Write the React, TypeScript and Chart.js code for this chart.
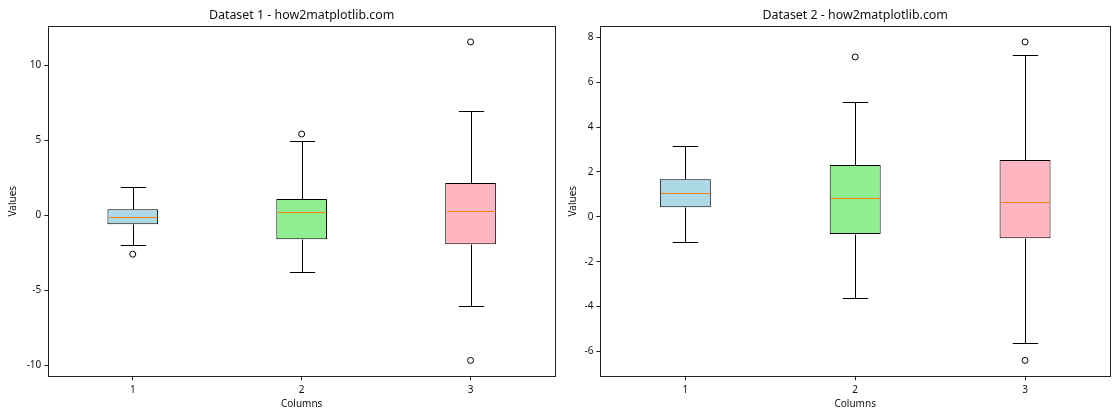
import React, { useEffect, useRef } from "react";
import { Chart, registerables } from "chart.js";

Chart.register(...registerables);

// ---------- data ----------
const categories = ["1", "2", "3"];
const boxColors = ["#add8e6", "#90ee90", "#ffb6c1"];

// Dataset 1
const d1Q1 = [-0.61, -1.61, -1.94];
const d1Q3 = [0.39, 1.06, 2.13];
const d1Median = [-0.14, 0.19, 0.26];
const d1WhiskerLow = [-2.01, -3.81, -6.06];
const d1WhiskerHigh = [1.86, 4.93, 6.91];
const d1Outliers = [[-2.61], [5.4], [11.54, -9.69]];
const d1Ticks = [-10, -5, 0, 5, 10];
const d1TickLabels = ["-10", "-5", "0", "5", "10"];

// Dataset 2
const d2Q1 = [0.43, -0.77, -0.95];
const d2Q3 = [1.68, 2.31, 2.53];
const d2Median = [1.06, 0.83, 0.66];
const d2WhiskerLow = [-1.13, -3.63, -5.63];
const d2WhiskerHigh = [3.17, 5.1, 7.21];
const d2Outliers = [[], [7.13], [7.8, -6.4]];
const d2Ticks = [-6, -4, -2, 0, 2, 4, 6, 8];
const d2TickLabels = ["-6", "-4", "-2", "0", "2", "4", "6", "8"];

const FONT = '"Noto Sans", "DejaVu Sans", sans-serif';
const TEXT = "#111";
const AXIS = "#222";

type BoxProps = {
  title: string;
  q1: number[];
  q3: number[];
  med: number[];
  wlo: number[];
  whi: number[];
  outliers: number[][];
  ticks: number[];
  tickLabels: string[];
  yWidth: number;
  padRight: number;
};

function BoxChart(p: BoxProps) {
  const ref = useRef<HTMLCanvasElement | null>(null);

  useEffect(() => {
    if (!ref.current) return;
    const all = [...p.wlo, ...p.whi, ...p.outliers.flat()];
    const lo = Math.min(...all);
    const hi = Math.max(...all);
    const m = (hi - lo) * 0.05;

    const outlierPts: { x: string; y: number }[] = [];
    p.outliers.forEach((arr, i) =>
      arr.forEach((v) => outlierPts.push({ x: categories[i], y: v }))
    );

    const extras = {
      id: "boxExtras",
      afterDatasetsDraw(chart: any) {
        const { ctx, scales } = chart;
        const x = scales.x;
        const y = scales.y;
        const unit = x.getPixelForValue(1) - x.getPixelForValue(0);
        const half = (unit * 0.3) / 2;
        const capHalf = half / 2;
        ctx.save();
        ctx.lineWidth = 1;
        categories.forEach((_, i) => {
          const cx = Math.round(x.getPixelForValue(i)) + 0.5;
          const py = (v: number) => Math.round(y.getPixelForValue(v)) + 0.5;
          ctx.strokeStyle = "#000";
          ctx.beginPath();
          ctx.moveTo(cx, py(p.q3[i]));
          ctx.lineTo(cx, py(p.whi[i]));
          ctx.moveTo(cx, py(p.q1[i]));
          ctx.lineTo(cx, py(p.wlo[i]));
          ctx.moveTo(cx - capHalf, py(p.whi[i]));
          ctx.lineTo(cx + capHalf, py(p.whi[i]));
          ctx.moveTo(cx - capHalf, py(p.wlo[i]));
          ctx.lineTo(cx + capHalf, py(p.wlo[i]));
          ctx.stroke();
          ctx.strokeStyle = "#ff7f0e";
          ctx.beginPath();
          ctx.moveTo(cx - half + 1, py(p.med[i]));
          ctx.lineTo(cx + half - 1, py(p.med[i]));
          ctx.stroke();
        });
        ctx.restore();
      },
      afterDraw(chart: any) {
        const { ctx, chartArea: a } = chart;
        ctx.save();
        ctx.strokeStyle = AXIS;
        ctx.lineWidth = 1;
        ctx.strokeRect(
          Math.round(a.left) + 0.5,
          Math.round(a.top) + 0.5,
          Math.round(a.right) - Math.round(a.left),
          Math.round(a.bottom) - Math.round(a.top)
        );
        ctx.restore();
      },
    };

    const chart = new Chart(ref.current, {
      type: "bar",
      data: {
        labels: categories,
        datasets: [
          {
            type: "bar",
            data: p.q1.map((v, i) => [v, p.q3[i]]) as any,
            backgroundColor: boxColors,
            borderColor: "#000",
            borderWidth: 1,
            borderSkipped: false,
            barPercentage: 0.3,
            categoryPercentage: 1,
          },
          {
            type: "line",
            data: outlierPts as any,
            showLine: false,
            pointRadius: 3,
            pointBorderWidth: 1,
            pointBorderColor: "#000",
            pointBackgroundColor: "rgba(0,0,0,0)",
            borderColor: "#000",
          } as any,
        ],
      },
      plugins: [extras],
      options: {
        responsive: false,
        animation: false,
        devicePixelRatio: 1,
        layout: { padding: { left: 0, right: p.padRight, top: 0, bottom: 0 } },
        plugins: {
          legend: { display: false },
          tooltip: { enabled: false },
          title: {
            display: true,
            fullSize: false,
            text: p.title,
            color: TEXT,
            font: { family: FONT, size: 12.4, weight: "normal" },
            padding: { top: 8, bottom: 3.12 },
          },
        },
        scales: {
          x: {
            type: "category",
            offset: true,
            grid: {
              offset: false,
              drawOnChartArea: false,
              drawTicks: true,
              tickLength: 4,
              color: AXIS,
            },
            border: { display: false },
            ticks: { color: TEXT, padding: 4, font: { family: FONT, size: 10 } },
            title: {
              display: true,
              text: "Columns",
              color: TEXT,
              font: { family: FONT, size: 10 },
              padding: { top: 0, bottom: 9.7 },
            },
            afterFit: (s: any) => {
              s.height = 43.7;
              s.paddingLeft = 0;
              s.paddingRight = 0;
            },
          },
          y: {
            type: "linear",
            min: lo - m,
            max: hi + m,
            afterBuildTicks: (s: any) => {
              s.ticks = p.ticks.map((v) => ({ value: v }));
            },
            grid: {
              drawOnChartArea: false,
              drawTicks: true,
              tickLength: 4,
              color: AXIS,
            },
            border: { display: false },
            ticks: {
              color: TEXT,
              padding: 3,
              font: { family: FONT, size: 10 },
              callback: (v: any) => {
                const k = p.ticks.indexOf(Number(v));
                return k >= 0 ? p.tickLabels[k] : "";
              },
            },
            title: {
              display: true,
              text: "Values",
              color: TEXT,
              font: { family: FONT, size: 10 },
              padding: { top: 7, bottom: 0 },
            },
            afterFit: (s: any) => {
              s.width = p.yWidth;
            },
          },
        },
      } as any,
    });
    return () => chart.destroy();
  }, []);

  return (
    <canvas
      ref={ref}
      width={560}
      height={420}
      style={{ display: "block", width: 560, height: 420 }}
    />
  );
}

export default function App() {
  return (
    <div
      style={{
        position: "absolute",
        left: 0,
        top: 0,
        width: 1120,
        height: 420,
        background: "#fff",
        display: "flex",
      }}
    >
      <BoxChart
        title="Dataset 1 - how2matplotlib.com"
        q1={d1Q1}
        q3={d1Q3}
        med={d1Median}
        wlo={d1WhiskerLow}
        whi={d1WhiskerHigh}
        outliers={d1Outliers}
        ticks={d1Ticks}
        tickLabels={d1TickLabels}
        yWidth={48.3}
        padRight={0.8}
      />
      <BoxChart
        title="Dataset 2 - how2matplotlib.com"
        q1={d2Q1}
        q3={d2Q3}
        med={d2Median}
        wlo={d2WhiskerLow}
        whi={d2WhiskerHigh}
        outliers={d2Outliers}
        ticks={d2Ticks}
        tickLabels={d2TickLabels}
        yWidth={40.4}
        padRight={10}
      />
    </div>
  );
}
